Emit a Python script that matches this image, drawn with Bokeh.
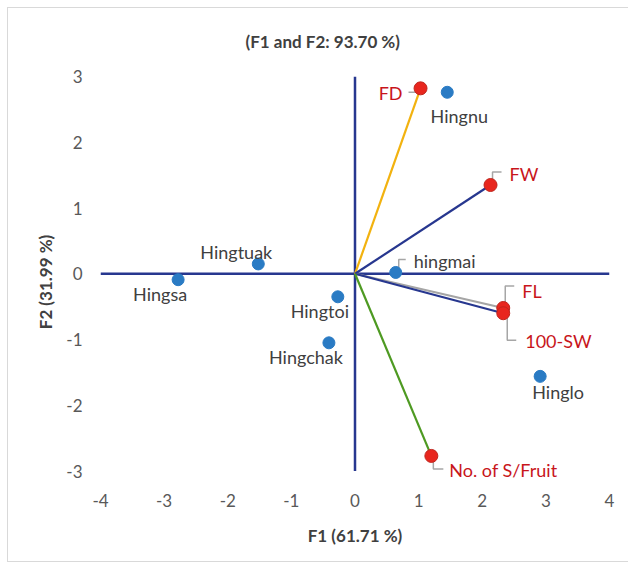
from bokeh.plotting import figure
from bokeh.models import ColumnDataSource, LabelSet, FixedTicker
from bokeh.core.properties import value
from bokeh.embed import file_html
from bokeh.resources import INLINE

# ---------------- data ----------------
obs_names = ["Hingnu", "hingmai", "Hinglo", "Hingtuak", "Hingsa", "Hingtoi", "Hingchak"]
obs_f1 = [1.45, 0.64, 2.91, -1.52, -2.78, -0.27, -0.41]
obs_f2 = [2.76, 0.02, -1.56, 0.15, -0.09, -0.35, -1.05]

var_names = ["FD", "FW", "FL", "100-SW", "No. of S/Fruit"]
var_f1 = [1.03, 2.13, 2.33, 2.33, 1.20]
var_f2 = [2.82, 1.35, -0.52, -0.60, -2.77]

x_ticks = [-4, -3, -2, -1, 0, 1, 2, 3, 4]
y_ticks = [-3, -2, -1, 0, 1, 2, 3]

title_text = "(F1 and F2: 93.70 %)"
x_label = "F1 (61.71 %)"
y_label = "F2 (31.99 %)"

# ---------------- styles ----------------
FONT = "Lato"
NAVY = "#27378F"
var_line_colors = ["#F2B20F", NAVY, "#A5A5A5", NAVY, "#4E9A22"]
obs_label_dx = [12, 18, 18, -22, -18, -18, -23]
obs_label_dy = [-24, 11, -16, 12, -14, -14, -14]
obs_label_align = ["center", "left", "center", "center", "center", "center", "center"]
var_label_dx = [-18, 19, 19, 22, 18]
var_label_dy = [-5, 11, 17, -28, -14]
var_label_align = ["right", "left", "left", "left", "left"]
# leader polylines (pixel offsets from the marker, y up)
obs_leaders = {1: [(3, 0), (3, 13), (10, 13)]}
var_leaders = {
    0: [(-3, -4), (-12, -4)],
    1: [(2, 0), (2, 13), (11, 13)],
    2: [(2, 2), (2, 22), (11, 22)],
    3: [(4, -2), (4, -27), (13, -27)],
    4: [(2, 0), (2, -13), (12, -13)],
}

W, H = 621, 555
ML, MR, MT, MB = 92, 20, 67, 76
x0, x1 = x_ticks[0], x_ticks[-1]
y0, y1 = y_ticks[0], y_ticks[-1]
y_lo = y0 - 0.25   # a little room below the last tick so the bottom label is not clipped

p = figure(width=W, height=H, x_range=(x0, x1), y_range=(y_lo, y1),
           output_backend="svg", toolbar_location=None,
           min_border_left=ML, min_border_right=MR,
           min_border_top=MT, min_border_bottom=MB)
p.styles = {"margin-left": "7px", "margin-top": "7px",
            "border-left": "1px solid #D9D9D9", "border-top": "1px solid #D9D9D9",
            "border-bottom": "1px solid #D9D9D9"}
p.outline_line_color = None
p.xgrid.visible = False
p.ygrid.visible = False
p.background_fill_color = "white"

for ax in (p.xaxis[0], p.yaxis[0]):
    ax.axis_line_color = None
    ax.major_tick_line_color = None
    ax.minor_tick_line_color = None
    ax.major_tick_out = 0
    ax.major_tick_in = 0
    ax.minor_tick_out = 0
    ax.minor_tick_in = 0
    ax.major_label_text_font = FONT
    ax.major_label_text_font_size = "17px"
    ax.major_label_text_color = "#595959"
    ax.axis_label_text_font = FONT
    ax.axis_label_text_font_size = "17px"
    ax.axis_label_text_font_style = "bold"
    ax.axis_label_text_color = "#404040"

p.xaxis.ticker = FixedTicker(ticks=x_ticks)
p.yaxis.ticker = FixedTicker(ticks=y_ticks)
p.xaxis.major_label_overrides = {t: str(t) for t in x_ticks}
p.yaxis.major_label_overrides = {t: str(t) for t in y_ticks}
p.xaxis.axis_label = x_label
p.yaxis.axis_label = y_label
p.xaxis.major_label_standoff = 6
p.xaxis.axis_label_standoff = 15
p.yaxis.major_label_standoff = 18
p.yaxis.axis_label_standoff = 7

p.title.text = title_text
p.title.text_font = FONT
p.title.text_font_size = "17px"
p.title.text_font_style = "bold"
p.title.text_color = "#404040"
p.title.align = "left"
p.title.offset = 145
p.title.vertical_align = "top"
p.title.standoff = 45

# axes through the origin, spanning the tick extents
p.line([x0, x1], [0, 0], line_color=NAVY, line_width=2.5)
p.line([0, 0], [y0, y1], line_color=NAVY, line_width=2.5)

# scale factors for leader lines
sx = (x1 - x0) / (W - ML - MR)
sy = (y1 - y_lo) / (H - MT - MB)

def leader_paths(xs, ys, leaders):
    lx, ly = [], []
    for i, pts in leaders.items():
        lx.append([xs[i] + dx * sx for dx, dy in pts])
        ly.append([ys[i] + dy * sy for dx, dy in pts])
    return lx, ly

lx1, ly1 = leader_paths(obs_f1, obs_f2, obs_leaders)
lx2, ly2 = leader_paths(var_f1, var_f2, var_leaders)
p.multi_line(lx1 + lx2, ly1 + ly2, line_color="#A6A6A6", line_width=1.5)

# variable vectors
vsrc = ColumnDataSource(dict(x0=[0] * len(var_f1), y0=[0] * len(var_f2), x=var_f1, y=var_f2,
                             name=var_names, color=var_line_colors,
                             dx=var_label_dx, dy=var_label_dy, align=var_label_align))
p.segment(x0="x0", y0="y0", x1="x", y1="y", line_color="color", line_width=2.2, source=vsrc)
p.scatter("x", "y", size=13, fill_color="#E8261E", line_color="#C0261E", line_width=1, source=vsrc)

# observations
osrc = ColumnDataSource(dict(x=obs_f1, y=obs_f2, name=obs_names,
                             dx=obs_label_dx, dy=obs_label_dy, align=obs_label_align))
p.scatter("x", "y", size=12, fill_color="#2A7BC4", line_color="#2A7BC4", source=osrc)

p.add_layout(LabelSet(x="x", y="y", text="name", source=osrc, x_offset="dx", y_offset="dy",
                      text_align="align", text_baseline="middle",
                      text_font=value(FONT), text_font_size="18px", text_color="#404040"))
p.add_layout(LabelSet(x="x", y="y", text="name", source=vsrc, x_offset="dx", y_offset="dy",
                      text_align="align", text_baseline="middle",
                      text_font=value(FONT), text_font_size="18px", text_color="#C8151B"))

open("out.html", "w").write(file_html(p, INLINE))
